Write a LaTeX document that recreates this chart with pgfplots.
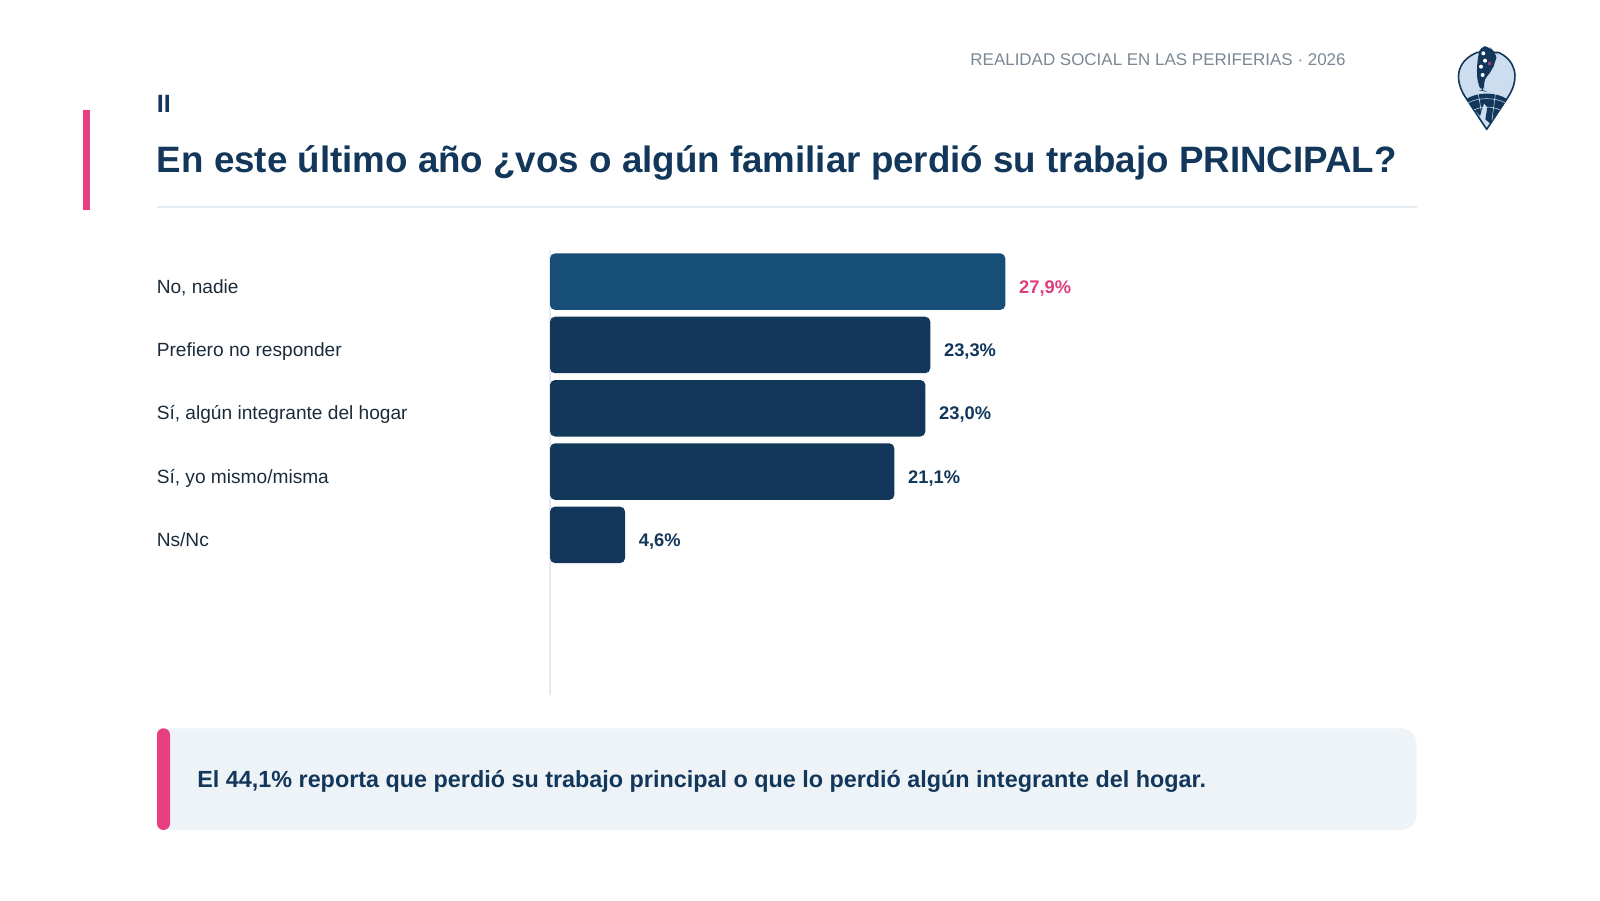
\documentclass[border=0pt]{standalone}
\usepackage{fontspec}
\setmainfont{Liberation Sans}
\usepackage{pgfplots}
\pgfplotsset{compat=1.18}
\definecolor{navy}{HTML}{12375A}
\definecolor{steel}{HTML}{174E78}
\definecolor{accent}{HTML}{E83E82}
\definecolor{valpink}{HTML}{DB3F7F}
\definecolor{rulec}{HTML}{E4ECF2}
\definecolor{panel}{HTML}{EEF3F7}
\definecolor{inkc}{HTML}{1C2B3A}
\definecolor{headc}{HTML}{7A8794}
\definecolor{pinfill}{HTML}{CBDDEE}
\newcommand{\fs}[1]{\fontsize{#1}{#1}\selectfont}
\begin{document}
\begin{tikzpicture}[x=0.5pt,y=-0.5pt]
\useasboundingbox (0,0) rectangle (1600,900);
\fill[accent] (83.3,110) rectangle (89.8,210);
\node[anchor=base west,inner sep=0,text=navy,font=\fs{12.5}\bfseries] at (156.5,112.7) {II};
\node[anchor=base west,inner sep=0,text=navy,font=\fs{18.36}\bfseries] at (156.5,172.5) {En este último año ¿vos o algún familiar perdió su trabajo PRINCIPAL?};
\draw[rulec,line width=1pt] (157,206.7) -- (1416.7,206.7);
\node[anchor=base east,inner sep=0,text=headc,font=\fs{8.48}] at (1346,65.5) {REALIDAD SOCIAL EN LAS PERIFERIAS · 2026};
% logo, in crop pixels
\begin{scope}[shift={(1400,20)},x=0.16667pt,y=-0.16667pt]
\draw[navy,line width=0.8pt,fill=pinfill,line join=round]
  (260,328) -- (192,225) .. controls (160,170) and (175,120) .. (232,97)
  -- (295,97) .. controls (345,120) and (360,170) .. (328,225) -- cycle;
\fill[navy] (198,238) .. controls (230,215) and (290,215) .. (322,238)
  -- (272,312) -- (256,298) -- (262,262) -- (252,250) -- (240,288) -- cycle;
\draw[pinfill!70!white,line width=0.25pt] (205,248) .. controls (235,232) and (285,232) .. (315,248)
  (222,270) .. controls (245,258) and (275,258) .. (300,270)
  (235,222) -- (244,275) (286,222) -- (276,300);
\fill[navy,rounded corners=3pt] (240,80) -- (268,78) -- (280,96) -- (294,104) -- (284,125)
  -- (278,150) -- (258,170) -- (250,190) -- (254,214) -- (244,212)
  -- (233,190) -- (230,150) -- (234,110) -- cycle;
\fill[accent!70!navy] (264,126) rectangle (274,136);
\fill[white] (250,100) circle (1pt) (255,122) circle (1pt) (243,140) circle (1pt) (248,165) circle (1pt);
\end{scope}
\fill[panel,rounded corners=8pt] (157,728.3) rectangle (1416.7,830);
\fill[accent,rounded corners=3.2pt] (157,728.3) rectangle (170,830);
\node[anchor=base west,inner sep=0,text=navy,font=\fs{11.68}\bfseries] at (197,787.2) {El 44,1\% reporta que perdió su trabajo principal o que lo perdió algún integrante del hogar.};
\begin{axis}[
  at={(275pt,-125pt)},anchor=north west,
  scale only axis,width=432.5pt,height=222.5pt,
  xbar,bar width=28.25pt,bar shift=0pt,
  xmin=0,xmax=53,ymin=-0.5,ymax=6.53,y dir=reverse,
  axis x line=none,axis y line*=left,
  axis line style={rulec,line width=0.75pt},
  xtick=\empty,ytick={0,1,2,3,4},
  yticklabels={{No, nadie},{Prefiero no responder},{Sí, algún integrante del hogar},{Sí, yo mismo/misma},{Ns/Nc}},
  major tick length=0pt,
  yticklabel style={anchor=west,xshift=-196.8pt,inner sep=0pt,text height=11.7pt,text depth=0pt,text=inkc,font=\fs{9.56}},
  point meta=x,
  nodes near coords={\pgfmathprintnumber[fixed,fixed zerofill,precision=1,use comma]{\pgfplotspointmeta}\%},
  every node near coord/.append style={font=\fs{9.15}\bfseries,inner xsep=6.7pt,inner ysep=0pt,text height=11.7pt,text depth=0pt},
  /pgf/number format/assume math mode=true,
]
\addplot[fill=steel,draw=none,rounded corners=2.5pt,text=valpink] coordinates {(27.9,0)};
\addplot[fill=navy,draw=none,rounded corners=2.5pt,text=navy] coordinates {(23.3,1) (23.0,2) (21.1,3) (4.6,4)};
\end{axis}
\end{tikzpicture}
\end{document}
